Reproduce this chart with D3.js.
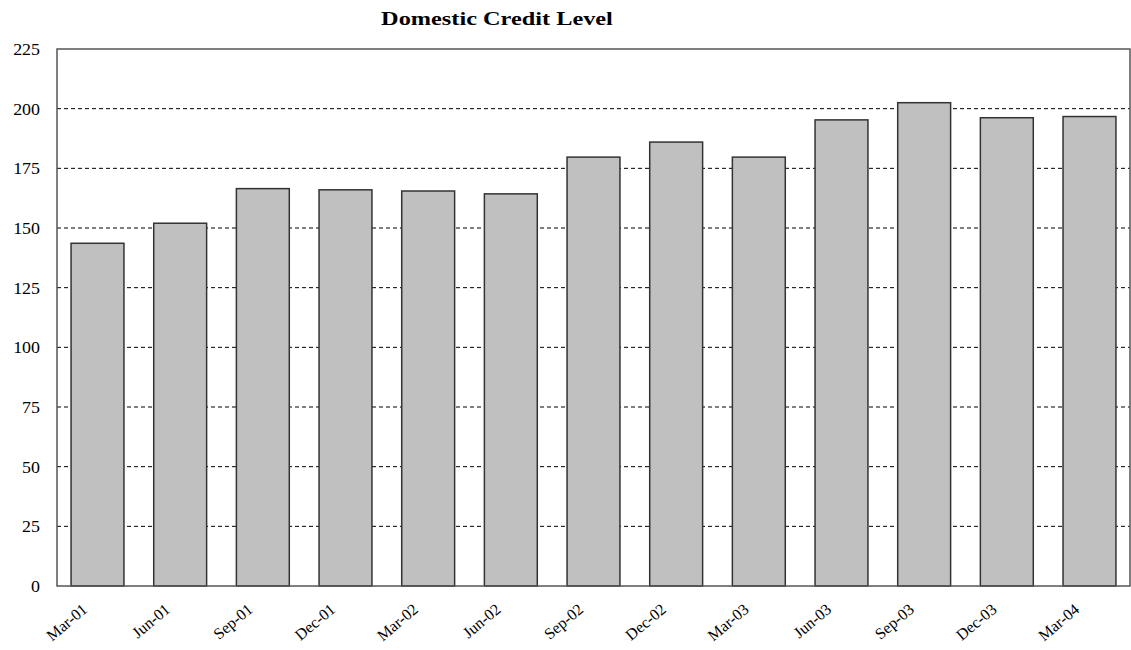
<!DOCTYPE html>
<html>
<head>
<meta charset="utf-8">
<script src="https://cdn.jsdelivr.net/npm/d3@7"></script>
<style>
  body { margin: 0; background: #fff; }
  text { font-family: "Liberation Serif", "Times New Roman", serif; }
</style>
</head>
<body>
<div id="chart"></div>
<script>
// data
var quarters = ["Mar-01", "Jun-01", "Sep-01", "Dec-01", "Mar-02", "Jun-02", "Sep-02",
                "Dec-02", "Mar-03", "Jun-03", "Sep-03", "Dec-03", "Mar-04"];
var creditLevel = [143.6, 152, 166.5, 166, 165.5, 164.3, 179.7, 186, 179.7, 195.3, 202.5, 196.2, 196.7];
var yTicks = [0, 25, 50, 75, 100, 125, 150, 175, 200, 225];

// set the dimensions and margins of the graph
var margin = {top: 49, right: 1, bottom: 64, left: 57},
    width = 1131 - margin.left - margin.right,
    height = 650 - margin.top - margin.bottom;

var svg = d3.select("#chart")
  .append("svg")
    .attr("width", width + margin.left + margin.right)
    .attr("height", height + margin.top + margin.bottom)
  .append("g")
    .attr("transform", "translate(" + margin.left + "," + margin.top + ")");

var x = d3.scaleBand()
  .domain(quarters)
  .range([0, width])
  .paddingInner(0.36)
  .paddingOuter(0.17);

var y = d3.scaleLinear()
  .domain([0, 225])
  .range([height, 0]);

// dashed gridlines
svg.append("g")
  .selectAll("line")
  .data(yTicks.filter(function(d) { return d > 0 && d < 225; }))
  .enter()
  .append("line")
    .attr("x1", 0)
    .attr("x2", width)
    .attr("y1", function(d) { return y(d); })
    .attr("y2", function(d) { return y(d); })
    .attr("stroke", "#000")
    .attr("stroke-width", 1)
    .attr("stroke-dasharray", "4,3");

// bars
svg.append("g")
  .selectAll("rect")
  .data(quarters)
  .enter()
  .append("rect")
    .attr("x", function(d) { return x(d); })
    .attr("y", function(d, i) { return y(creditLevel[i]); })
    .attr("width", x.bandwidth())
    .attr("height", function(d, i) { return height - y(creditLevel[i]); })
    .attr("fill", "#c0c0c0")
    .attr("stroke", "#333")
    .attr("stroke-width", 1.5);

// plot frame
svg.append("rect")
  .attr("x", 0)
  .attr("y", 0)
  .attr("width", width)
  .attr("height", height)
  .attr("fill", "none")
  .attr("stroke", "#555")
  .attr("stroke-width", 1.5);

// Y axis
var yAxis = svg.append("g")
  .call(d3.axisLeft(y).tickValues(yTicks).tickSize(0));
yAxis.select(".domain").remove();
yAxis.selectAll("text")
  .attr("font-family", "Liberation Serif, serif")
  .attr("font-size", "16px")
  .attr("fill", "#000")
  .attr("x", 0)
  .attr("dy", "0.35em")
  .attr("transform", "translate(-17,0) scale(1.12,1)");

// X axis
var xAxis = svg.append("g")
  .attr("transform", "translate(0," + height + ")")
  .call(d3.axisBottom(x).tickSize(0));
xAxis.select(".domain").remove();
xAxis.selectAll("text")
  .attr("font-family", "Liberation Serif, serif")
  .attr("font-size", "16px")
  .attr("fill", "#000")
  .attr("dy", 0)
  .attr("y", 0)
  .attr("transform", "translate(-9,25) rotate(-40)")
  .style("text-anchor", "end");

// title
svg.append("text")
  .attr("transform", "translate(" + (497 - margin.left) + "," + (25 - margin.top) + ") scale(1.28,1)")
  .attr("text-anchor", "middle")
  .attr("font-size", "19px")
  .attr("font-weight", "bold")
  .text("Domestic Credit Level");
</script>
</body>
</html>
